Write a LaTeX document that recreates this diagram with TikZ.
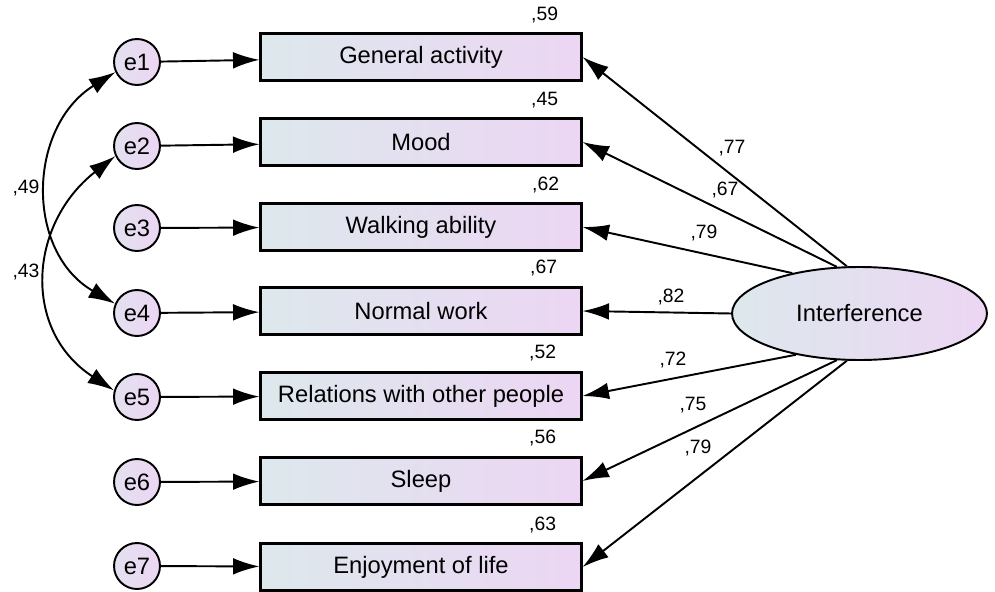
\documentclass[tikz,border=0pt]{standalone}
\usepackage{fontspec}
\setmainfont{Liberation Sans}
\usetikzlibrary{arrows.meta,calc,shapes.geometric}
\definecolor{shadel}{RGB}{221,232,236}
\definecolor{shader}{RGB}{236,214,243}

\begin{document}
\begin{tikzpicture}[x=0.02cm,y=-0.02cm]
    \tikzset{line/.style={draw,line width=1.1pt}}
    \tikzset{arrow/.style={line,-{Latex[length=15pt,width=9.5pt]}}}
    \tikzset{twoway/.style={line,{Latex[length=15pt,width=9.5pt]}-{Latex[length=15pt,width=9.5pt]}}}
    \tikzset{obs/.style={draw,line width=1.3pt,left color=shadel,right color=shader,minimum width=6.42cm,minimum height=0.94cm,inner sep=0pt,font=\fontsize{13.5}{16}\selectfont}}
    \tikzset{err/.style={line,circle,left color=shadel!60!shader,right color=shader,minimum width=0.92cm,inner sep=0pt,font=\fontsize{13.5}{16}\selectfont}}
    \tikzset{lat/.style={line,ellipse,left color=shadel,right color=shader,minimum width=5.1cm,minimum height=1.86cm,inner sep=0pt,font=\fontsize{13.5}{16}\selectfont}}
    \tikzset{lbl/.style={inner sep=0pt,font=\fontsize{11}{13}\selectfont}}

    \useasboundingbox (0,0) rectangle (995,592);

    % observed items
    \node[obs] (x1) at (421,57) {General activity};
    \node[obs] (x2) at (421,142) {Mood};
    \node[obs] (x3) at (421,227) {Walking ability};
    \node[obs] (x4) at (421,311) {Normal work};
    \node[obs] (x5) at (421,396) {Relations with other people};
    \node[obs] (x6) at (421,481) {Sleep};
    \node[obs] (x7) at (421,567) {Enjoyment of life};

    % error terms
    \node[err] (e1) at (137,62) {e1};
    \node[err] (e2) at (137,146) {e2};
    \node[err] (e3) at (137,228) {e3};
    \node[err] (e4) at (137,313) {e4};
    \node[err] (e5) at (137,397) {e5};
    \node[err] (e6) at (137,482) {e6};
    \node[err] (e7) at (137,566) {e7};

    \node[lat] (int) at (859.5,313.5) {Interference};

    \foreach \i in {1,...,7}
        \path[arrow] (e\i) -- (x\i);

    \path[twoway] (e1.205) to[out=212,in=150,looseness=1.15] (e4.157);
    \path[twoway] (e2.205) to[out=218,in=147,looseness=1.2] (e5.164);
    \node[lbl] (c14) at (26,188) {,49};
    \node[lbl] (c25) at (26,272) {,43};

    \path[arrow] (int.105) -- (x1.east);
    \path[arrow] (int.116) -- (x2.east);
    \path[arrow] (int.149) -- (x3.east);
    \path[arrow] (int.180) -- (x4.east);
    \path[arrow] (int.213) -- (x5.east);
    \path[arrow] (int.244) -- (x6.east);
    \path[arrow] (int.255) -- (x7.east);

    % loadings
    \node[lbl] (l1) at (732,148) {,77};
    \node[lbl] (l2) at (725,190) {,67};
    \node[lbl] (l3) at (704,233) {,79};
    \node[lbl] (l4) at (671,297) {,82};
    \node[lbl] (l5) at (673,360) {,72};
    \node[lbl] (l6) at (693,405) {,75};
    \node[lbl] (l7) at (698,448) {,79};

    % squared multiple correlations
    \node[lbl] (r1) at ($(x1.north east)+(-38,-17)$) {,59};
    \node[lbl] (r2) at ($(x2.north east)+(-38,-17)$) {,45};
    \node[lbl] (r3) at ($(x3.north east)+(-37,-17)$) {,62};
    \node[lbl] (r4) at ($(x4.north east)+(-39,-18)$) {,67};
    \node[lbl] (r5) at ($(x5.north east)+(-40,-18)$) {,52};
    \node[lbl] (r6) at ($(x6.north east)+(-40,-18)$) {,56};
    \node[lbl] (r7) at ($(x7.north east)+(-40,-17)$) {,63};
\end{tikzpicture}
\end{document}
